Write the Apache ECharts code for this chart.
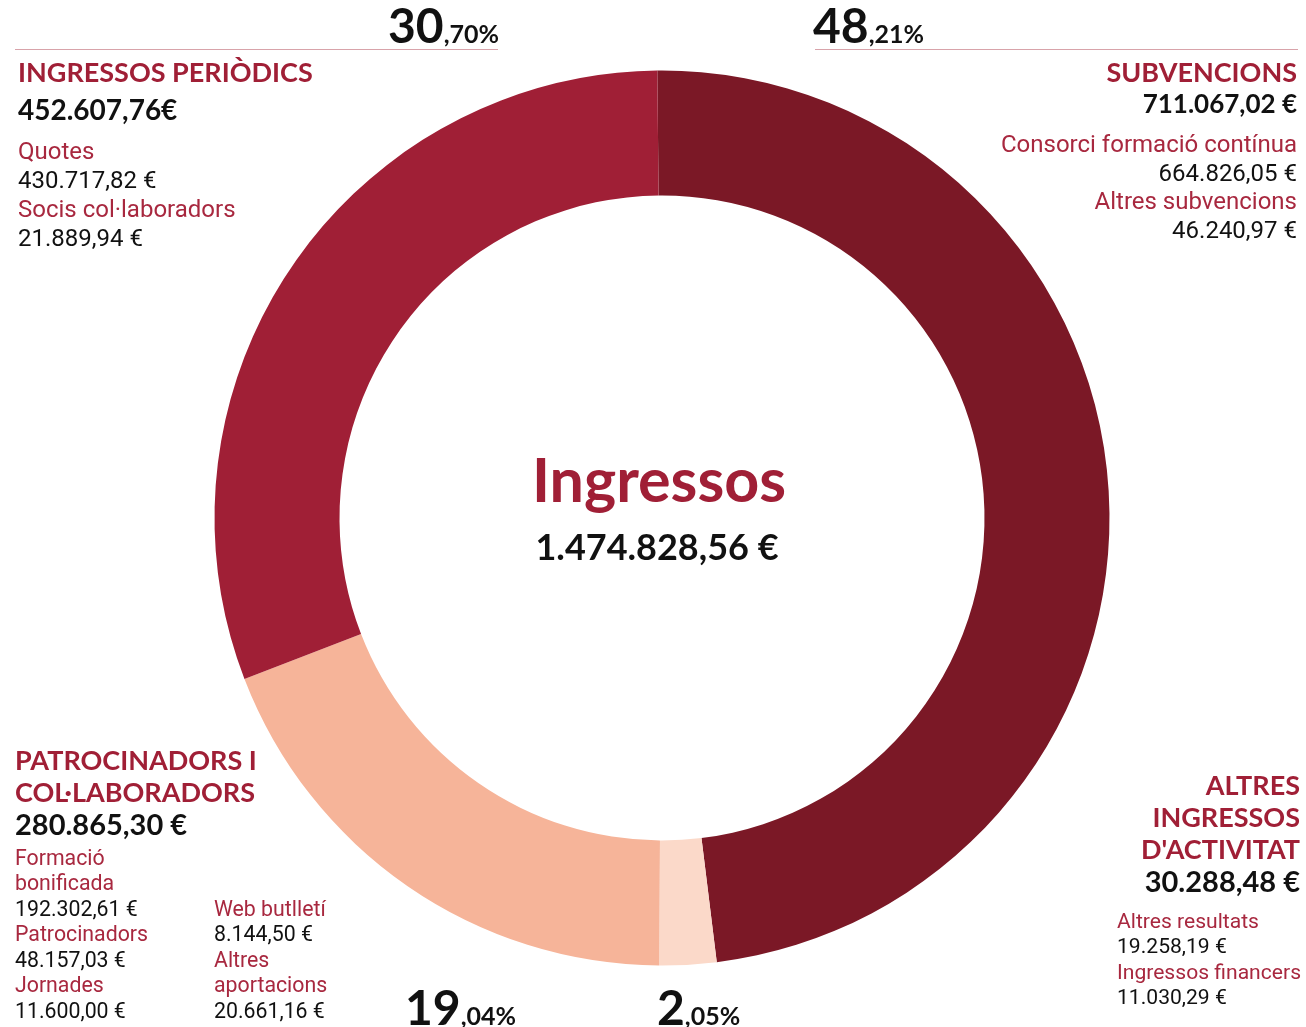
<!DOCTYPE html>
<html>
<head>
<meta charset="utf-8">
<script src="https://cdn.jsdelivr.net/npm/echarts@6/dist/echarts.min.js"></script>
<style>
  html, body { margin: 0; padding: 0; background: #fff; }
  #chart { width: 1306px; height: 1027px; }
</style>
</head>
<body>
<div id="chart"></div>
<script>
// data
var categories = ['Subvencions', "Altres ingressos d'activitat", 'Patrocinadors i col·laboradors', 'Ingressos periòdics'];
var values = [711067.02, 30288.48, 280865.30, 452607.76];
var colors = ['#7b1826', '#fbd9c9', '#f6b499', '#a01f36'];
var pctWhole = ['48', '2', '19', '30'];
var pctDecimal = [',21%', ',05%', ',04%', ',70%'];
var titles = [['SUBVENCIONS'], ['ALTRES', 'INGRESSOS', "D'ACTIVITAT"], ['PATROCINADORS I', 'COL·LABORADORS'], ['INGRESSOS PERIÒDICS']];
var totals = ['711.067,02 €', '30.288,48 €', '280.865,30 €', '452.607,76€'];
var subvItems = ['Consorci formació contínua', '664.826,05 €', 'Altres subvencions', '46.240,97 €'];
var altresItems = ['Altres resultats', '19.258,19 €', 'Ingressos financers', '11.030,29 €'];
var patroItems1 = ['Formació', 'bonificada', '192.302,61 €', 'Patrocinadors', '48.157,03 €', 'Jornades', '11.600,00 €'];
var patroItems2 = ['Web butlletí', '8.144,50 €', 'Altres', 'aportacions', '20.661,16 €'];
var periodItems = ['Quotes', '430.717,82 €', 'Socis col·laboradors', '21.889,94 €'];
var centerTitle = 'Ingressos';
var centerTotal = '1.474.828,56 €';

var RED = '#a01f36';
var HEAD = 'bold 27px Lato';

var chartDom = document.getElementById('chart');
var myChart = echarts.init(chartDom);

function txt(text, x, y, font, fill, align) {
    return {
        type: 'text', silent: true,
        style: { text: text, x: x, y: y, font: font, fill: fill, align: align || 'left', verticalAlign: 'middle' }
    };
}

// alternating label / amount lines; labels (no €) are red
function itemLines(items, x, y0, step, size, align) {
    return items.map(function (s, i) {
        var red = s.indexOf('€') < 0;
        return txt(s, x, y0 + i * step, size + 'px Roboto', red ? '#a8283f' : '#111', align);
    });
}

function pct(i, x, y, align) {
    return {
        type: 'text', silent: true,
        style: {
            text: '{a|' + pctWhole[i] + '}{b|' + pctDecimal[i] + '}',
            x: x, y: y, align: align, verticalAlign: 'bottom',
            rich: {
                a: { font: 'bold 48px Lato', fill: '#111', verticalAlign: 'bottom' },
                b: { font: 'bold 25px Lato', fill: '#111', verticalAlign: 'bottom', padding: [0, 0, 5, 0] }
            }
        }
    };
}

var graphics = [
    // rules under the top percentages
    { type: 'line', silent: true, shape: { x1: 15, y1: 49.5, x2: 498, y2: 49.5 }, style: { stroke: '#d8a3aa', lineWidth: 1 } },
    { type: 'line', silent: true, shape: { x1: 815, y1: 49.5, x2: 1298, y2: 49.5 }, style: { stroke: '#d8a3aa', lineWidth: 1 } },
    pct(3, 499, 52, 'right'),
    pct(0, 813, 52, 'left'),
    pct(2, 405, 1034, 'left'),
    pct(1, 657, 1034, 'left'),
    // centre
    txt(centerTitle, 659, 482, 'bold 61px Lato', RED, 'center'),
    txt(centerTotal, 657, 548, 'bold 36px Lato', '#111', 'center'),
    // ingressos periodics
    txt(titles[3][0], 18, 73, HEAD, RED, 'left'),
    txt(totals[3], 18, 111, 'bold 28px Lato', '#111', 'left')
].concat(itemLines(periodItems, 18, 152.5, 29, 24, 'left'));

// subvencions
graphics.push(txt(titles[0][0], 1297, 73, HEAD, RED, 'right'));
graphics.push(txt(totals[0], 1297, 105, 'bold 26px Lato', '#111', 'right'));
graphics = graphics.concat(itemLines(subvItems, 1297, 146, 28.5, 24, 'right'));

// patrocinadors
titles[2].forEach(function (t, i) { graphics.push(txt(t, 15, 761 + i * 32, HEAD, RED, 'left')); });
graphics.push(txt(totals[2], 15, 826, 'bold 29px Lato', '#111', 'left'));
graphics = graphics.concat(itemLines(patroItems1, 15, 859.5, 25.5, 21.3, 'left'));
graphics = graphics.concat(itemLines(patroItems2, 214, 910.5, 25.5, 21.3, 'left'));

// altres ingressos
titles[1].forEach(function (t, i) { graphics.push(txt(t, 1300, 786, HEAD, RED, 'right')); graphics[graphics.length - 1].style.y = 786 + i * 32; });
graphics.push(txt(totals[1], 1300, 883, 'bold 29px Lato', '#111', 'right'));
graphics = graphics.concat(itemLines(altresItems, 1117, 922.5, 25.5, 21.1, 'left'));

var option = {
    animation: false,
    color: colors,
    graphic: { elements: graphics },
    series: [{
        type: 'pie',
        center: [662, 518],
        radius: [322.5, 447.5],
        startAngle: 90.6,
        clockwise: true,
        silent: true,
        label: { show: false },
        labelLine: { show: false },
        itemStyle: { borderWidth: 0 },
        data: categories.map(function (c, i) { return { name: c, value: values[i] }; })
    }]
};
option && myChart.setOption(option);
</script>
</body>
</html>
